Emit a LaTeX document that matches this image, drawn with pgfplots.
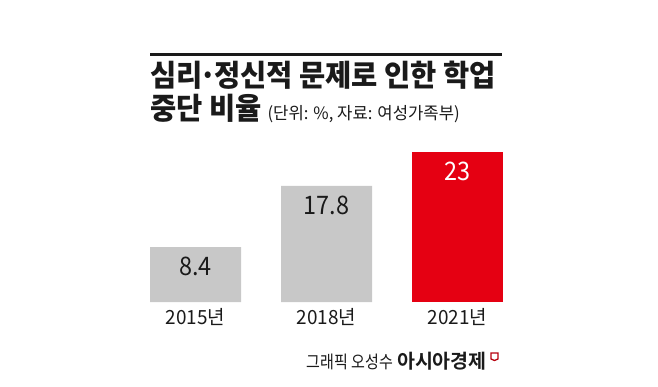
\documentclass[border=0pt]{standalone}
\usepackage{pgfplots}
\pgfplotsset{compat=1.18}
\usepackage{fontspec}
\newfontfamily\krr[FakeStretch=0.98]{Noto Sans CJK KR}
\newfontfamily\krf[FakeStretch=0.86]{Noto Sans CJK KR}
\newfontfamily\kry[FakeStretch=0.97]{Noto Sans CJK KR}
\newfontfamily\krn[FakeStretch=0.92]{Noto Sans CJK KR}
\newfontfamily\krblack[FakeStretch=0.95]{Noto Sans CJK KR Black}
\newfontfamily\krbold{Noto Sans CJK KR Bold}
\definecolor{barGray}{HTML}{C8C8C8}
\definecolor{barRed}{HTML}{E50012}
\definecolor{ink}{HTML}{1A1A1A}
\begin{document}
\begin{tikzpicture}[x=1pt,y=1pt]
\useasboundingbox (0,0) rectangle (658,386);
\fill[white] (0,0) rectangle (658,386);
% title rule
\draw[ink, line width=2.5pt] (150,331.5) -- (502,331.5);
\node[anchor=base west, inner sep=0pt, text=ink] at (150,299) {\krblack\fontsize{30}{30}\selectfont 심리\kern-3pt·\kern-3pt정신적 문제로 인한 학업};
\node[anchor=base west, inner sep=0pt, text=ink] at (150,266) {\krblack\fontsize{30}{30}\selectfont 중단 비율\hspace{6pt}{\krr\fontsize{17}{17}\selectfont (단위: \%, 자료: 여성가족부)}};
\begin{axis}[
  at={(130pt,84pt)}, anchor=south west,
  width=393pt, height=195.6pt, scale only axis,
  xmin=-0.5, xmax=2.5, ymin=0, ymax=30,
  hide y axis,
  axis x line=bottom,
  x axis line style={draw=none},
  xtick={0,1,2},
  xticklabels={2015년,2018년,2021년},
  major tick length=0pt,
  xticklabel style={anchor=center, yshift=-15pt, font=\kry\fontsize{19.5}{19.5}\selectfont, text=ink},
  ybar, bar width=91pt,
  clip=false,
]
\addplot[fill=barGray, draw=none, bar shift=0pt,
  nodes near coords, point meta=explicit symbolic,
  every node near coord/.append style={anchor=center, yshift=-19pt, font=\krn\fontsize{25.5}{25.5}\selectfont, text=ink}]
  coordinates {(0,8.4)[8.4] (1,17.8)[17.8]};
\addplot[fill=barRed, draw=none, bar shift=0pt,
  nodes near coords, point meta=explicit symbolic,
  every node near coord/.append style={anchor=center, yshift=-19pt, font=\krn\fontsize{25.5}{25.5}\selectfont, text=white}]
  coordinates {(2,23)[23]};
\end{axis}
% footer
\node[anchor=base east, inner sep=0pt, text=ink] at (487,18) {{\krf\fontsize{17.5}{17.5}\selectfont 그래픽 오성수}\hspace{4pt}{\krbold\fontsize{19.5}{19.5}\selectfont 아시아경제}};
\draw[barRed!80!black, line width=1.3pt] (491,33) -- (498,33) -- (498,27) -- (494.5,25.5) -- (491,27) -- cycle;
\end{tikzpicture}
\end{document}
